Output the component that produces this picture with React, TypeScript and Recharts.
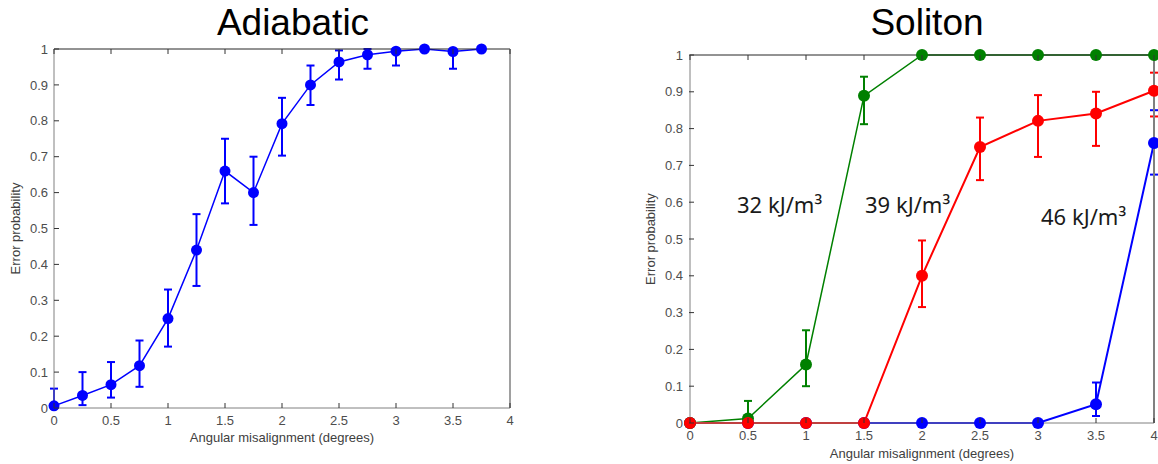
import { ComposedChart, Line, XAxis, YAxis, ErrorBar, Label } from 'recharts'

// shared axis ticks (degrees / probability)
const angleTicks = [0, 0.5, 1, 1.5, 2, 2.5, 3, 3.5, 4]
const probTicks = [0, 0.1, 0.2, 0.3, 0.4, 0.5, 0.6, 0.7, 0.8, 0.9, 1]

// adiabatic sweep
const adiabaticAngle = [0, 0.25, 0.5, 0.75, 1, 1.25, 1.5, 1.75, 2, 2.25, 2.5, 2.75, 3, 3.25, 3.5, 3.75]
const adiabaticProb = [0.006, 0.035, 0.065, 0.118, 0.249, 0.44, 0.66, 0.6, 0.792, 0.9, 0.964, 0.984, 0.994, 1, 0.993, 1]
const adiabaticLow = [0, 0.008, 0.029, 0.059, 0.171, 0.34, 0.57, 0.51, 0.703, 0.844, 0.915, 0.945, 0.954, 1, 0.945, 1]
const adiabaticHigh = [0.054, 0.1, 0.128, 0.188, 0.33, 0.54, 0.75, 0.7, 0.864, 0.954, 0.996, 1, 1, 1, 1, 1]

// soliton sweep, one series per anisotropy energy
const solitonAngle = [0, 0.5, 1, 1.5, 2, 2.5, 3, 3.5, 4]
const prob32 = [0, 0.012, 0.159, 0.889, 1, 1, 1, 1, 1]
const low32 = [0, 0, 0.1, 0.812, 1, 1, 1, 1, 1]
const high32 = [0, 0.06, 0.252, 0.941, 1, 1, 1, 1, 1]
const prob39 = [0, 0, 0, 0, 0.4, 0.75, 0.821, 0.841, 0.903]
const low39 = [0, 0, 0, 0, 0.315, 0.66, 0.723, 0.753, 0.833]
const high39 = [0, 0, 0, 0, 0.496, 0.83, 0.891, 0.9, 0.952]
const prob46 = [0, 0, 0, 0, 0, 0, 0, 0.051, 0.761]
const low46 = [0, 0, 0, 0, 0, 0, 0, 0.019, 0.675]
const high46 = [0, 0, 0, 0, 0, 0, 0, 0.11, 0.85]

const GREEN = '#008000'
const RED = '#ff0000'
const BLUE = '#0000ff'
const TICK_TEXT = '#4d4d4d'
const FRAME = '#808080'
const FRAME_TOP = '#262626'
const TICK_LEN = 5

// asymmetric bars: [below, above]; nothing drawn when the bounds collapse
const errOf = (v: number, lo: number, hi: number) => (hi - lo > 0 ? [v - lo, hi - v] : null)

const adiabaticData = adiabaticAngle.map((a, i) => ({
  angle: a,
  p: adiabaticProb[i],
  err: errOf(adiabaticProb[i], adiabaticLow[i], adiabaticHigh[i]),
}))

const solitonData = solitonAngle.map((a, i) => ({
  angle: a,
  g: prob32[i],
  gErr: errOf(prob32[i], low32[i], high32[i]),
  r: prob39[i],
  rErr: errOf(prob39[i], low39[i], high39[i]),
  b: prob46[i],
  bErr: errOf(prob46[i], low46[i], high46[i]),
}))

// inward tick marks, matlab style
const BottomTick = (props: any) => {
  const { x, y, payload } = props
  return (
    <g>
      <line x1={x} y1={y - 8} x2={x} y2={y - 8 - TICK_LEN} stroke="#333" />
      <text x={x} y={y} dy="0.71em" textAnchor="middle" fontSize={13} fill={TICK_TEXT}>
        {String(payload.value)}
      </text>
    </g>
  )
}

const LeftTick = (props: any) => {
  const { x, y, payload } = props
  return (
    <g>
      <line x1={x + 6} y1={y} x2={x + 6 + TICK_LEN} y2={y} stroke="#333" />
      <text x={x} y={y} dy="0.355em" textAnchor="end" fontSize={13} fill={TICK_TEXT}>
        {String(payload.value)}
      </text>
    </g>
  )
}

const TopTick = (props: any) => {
  const { x, y } = props
  return <line x1={x} y1={y} x2={x} y2={y + TICK_LEN} stroke="#333" />
}

const RightTick = (props: any) => {
  const { x, y } = props
  return <line x1={x} y1={y} x2={x - TICK_LEN} y2={y} stroke="#333" />
}

const labelStyle = { fontSize: 13, fill: '#404040' }

export default function App() {
  return (
    <div
      style={{
        position: 'absolute',
        left: 0,
        top: 0,
        width: 1158,
        height: 464,
        overflow: 'hidden',
        background: '#fff',
        fontFamily: '"Liberation Sans", Arial, sans-serif',
      }}
    >
      <div style={{ position: 'absolute', left: 0, top: 0 }}>
        <ComposedChart width={580} height={464} data={adiabaticData} margin={{ top: 48, left: 0, right: 69, bottom: 16 }}>
          <XAxis
            dataKey="angle"
            type="number"
            domain={[0, 4]}
            ticks={angleTicks}
            interval={0}
            height={40}
            tickSize={0}
            tickMargin={8}
            tick={BottomTick}
            axisLine={{ stroke: FRAME }}
          >
            <Label value="Angular misalignment (degrees)" position="insideBottom" offset={6} style={labelStyle} />
          </XAxis>
          <XAxis
            xAxisId="top"
            orientation="top"
            dataKey="angle"
            type="number"
            domain={[0, 4]}
            ticks={angleTicks}
            interval={0}
            height={1}
            tickSize={0}
            tickMargin={0}
            tick={TopTick}
            axisLine={{ stroke: FRAME_TOP }}
          />
          <YAxis
            type="number"
            domain={[0, 1]}
            ticks={probTicks}
            interval={0}
            width={54}
            tickSize={0}
            tickMargin={6}
            tick={LeftTick}
            axisLine={{ stroke: FRAME }}
          >
            <Label value="Error probability" angle={-90} position="insideLeft" offset={15} style={{ ...labelStyle, textAnchor: 'middle' }} />
          </YAxis>
          <YAxis
            yAxisId="right"
            orientation="right"
            type="number"
            domain={[0, 1]}
            ticks={probTicks}
            interval={0}
            width={1}
            tickSize={0}
            tickMargin={0}
            tick={RightTick}
            axisLine={{ stroke: FRAME, strokeWidth: 1.5 }}
          />
          <Line
            type="linear"
            dataKey="p"
            stroke={BLUE}
            strokeWidth={1.5}
            dot={{ r: 5.5, fill: BLUE, stroke: BLUE, strokeWidth: 0 }}
            activeDot={false}
            isAnimationActive={false}
          >
            <ErrorBar dataKey="err" direction="y" width={4} stroke={BLUE} strokeWidth={2} isAnimationActive={false} />
          </Line>
        </ComposedChart>
      </div>

      <div style={{ position: 'absolute', left: 600, top: 0 }}>
        <ComposedChart width={620} height={464} data={solitonData} margin={{ top: 54, left: 0, right: 65, bottom: 5 }}>
          <XAxis
            dataKey="angle"
            type="number"
            domain={[0, 4]}
            ticks={angleTicks}
            interval={0}
            height={36}
            tickSize={0}
            tickMargin={8}
            tick={BottomTick}
            axisLine={{ stroke: FRAME }}
          >
            <Label value="Angular misalignment (degrees)" position="insideBottom" offset={1.5} style={labelStyle} />
          </XAxis>
          <XAxis
            xAxisId="top"
            orientation="top"
            dataKey="angle"
            type="number"
            domain={[0, 4]}
            ticks={angleTicks}
            interval={0}
            height={1}
            tickSize={0}
            tickMargin={0}
            tick={TopTick}
            axisLine={{ stroke: FRAME_TOP }}
          />
          <YAxis
            type="number"
            domain={[0, 1]}
            ticks={probTicks}
            interval={0}
            width={90}
            tickSize={0}
            tickMargin={7}
            tick={LeftTick}
            axisLine={{ stroke: FRAME }}
          >
            <Label value="Error probability" angle={-90} position="insideLeft" offset={50} style={{ ...labelStyle, textAnchor: 'middle' }} />
          </YAxis>
          <YAxis
            yAxisId="right"
            orientation="right"
            type="number"
            domain={[0, 1]}
            ticks={probTicks}
            interval={0}
            width={1}
            tickSize={0}
            tickMargin={0}
            tick={RightTick}
            axisLine={{ stroke: FRAME, strokeWidth: 2 }}
          />
          <Line
            type="linear"
            dataKey="b"
            stroke={BLUE}
            strokeWidth={2}
            dot={{ r: 6, fill: BLUE, stroke: BLUE, strokeWidth: 0 }}
            activeDot={false}
            isAnimationActive={false}
          >
            <ErrorBar dataKey="bErr" direction="y" width={4} stroke={BLUE} strokeWidth={2} isAnimationActive={false} />
          </Line>
          <Line
            type="linear"
            dataKey="g"
            stroke={GREEN}
            strokeWidth={1.5}
            dot={{ r: 6, fill: GREEN, stroke: GREEN, strokeWidth: 0 }}
            activeDot={false}
            isAnimationActive={false}
          >
            <ErrorBar dataKey="gErr" direction="y" width={4} stroke={GREEN} strokeWidth={2} isAnimationActive={false} />
          </Line>
          <Line
            type="linear"
            dataKey="r"
            stroke={RED}
            strokeWidth={2}
            dot={{ r: 6, fill: RED, stroke: RED, strokeWidth: 0 }}
            activeDot={false}
            isAnimationActive={false}
          >
            <ErrorBar dataKey="rErr" direction="y" width={4} stroke={RED} strokeWidth={2} isAnimationActive={false} />
          </Line>
        </ComposedChart>
      </div>

      {/* panel titles and energy annotations */}
      <svg width={1158} height={464} style={{ position: 'absolute', left: 0, top: 0, pointerEvents: 'none' }}>
        <text x={293} y={35} textAnchor="middle" fontSize={37} fill="#000">Adiabatic</text>
        <text x={927} y={35} textAnchor="middle" fontSize={37} fill="#000">Soliton</text>
        <g fontFamily='"Noto Sans", "Open Sans", sans-serif' fontSize={22} fill="#1a1a1a">
          <text x={737} y={213}>32 kJ/m³</text>
          <text x={865} y={213}>39 kJ/m³</text>
          <text x={1041} y={225}>46 kJ/m³</text>
        </g>
      </svg>
    </div>
  )
}
